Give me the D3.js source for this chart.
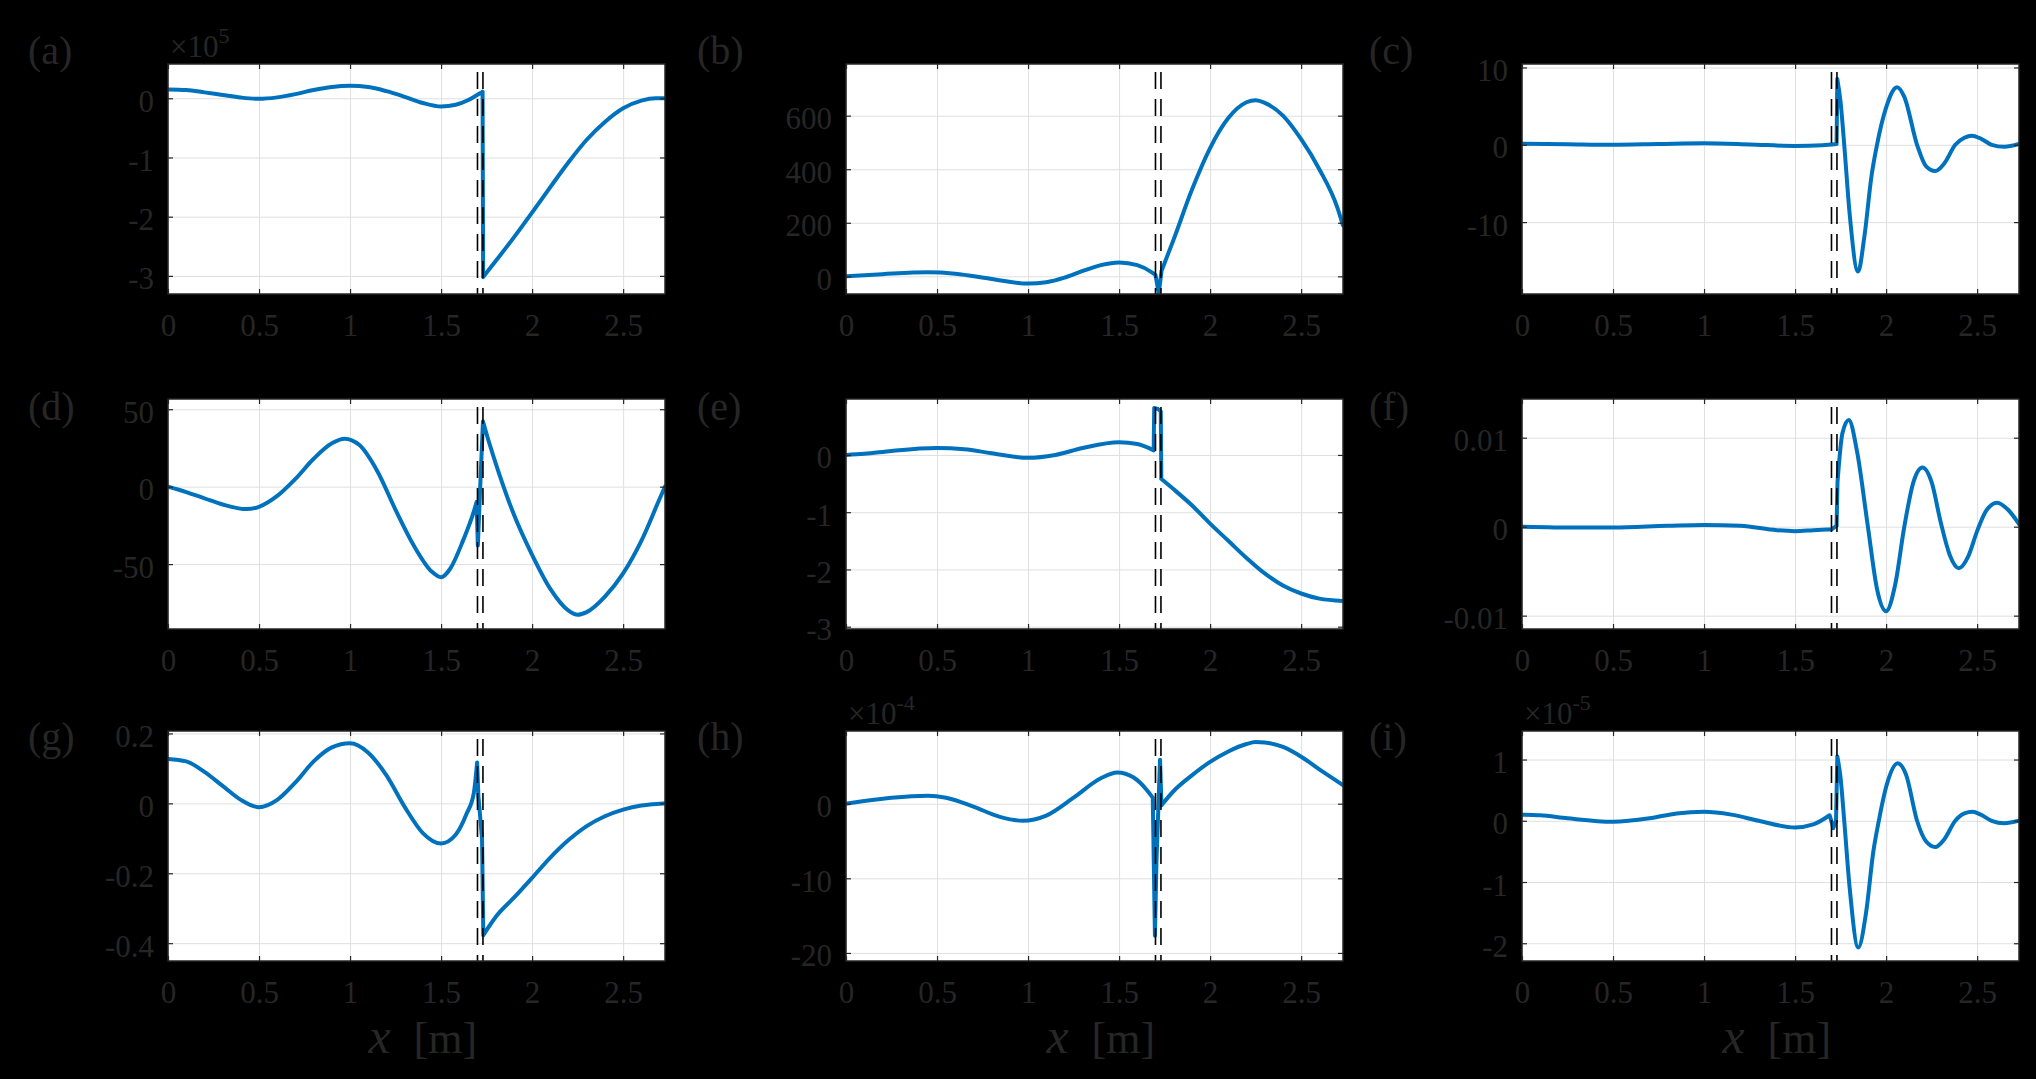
<!DOCTYPE html>
<html>
<head>
<meta charset="utf-8">
<script src="https://cdn.jsdelivr.net/npm/d3@7"></script>
<style>
  html, body { margin: 0; padding: 0; background: #000; }
  svg { display: block; }
  text { font-family: "Liberation Serif", "Times New Roman", serif; fill: #262626; }
</style>
</head>
<body>
<svg id="chart" width="2036" height="1079"></svg>
<script>
// shared x axis
const xDomain = [0, 2.73];
const xTicks = [0, 0.5, 1, 1.5, 2, 2.5];
const markerX = [1.70, 1.73];
// points inside this zone are joined by straight segments (jumps at the interface)
const jumpZone = [1.685, 1.735];

const panelNames = ['(a)', '(b)', '(c)', '(d)', '(e)', '(f)', '(g)', '(h)', '(i)'];
// y values are in the displayed units (see exponents)
const exponents = ['5', null, null, null, null, null, null, '-4', '-5'];
const yDomains = [
  [-3.306, 0.579], [-66, 793], [-19.3, 10.45],
  [-91.9, 56.6], [-3.04, 0.977], [-0.0115, 0.01435],
  [-0.451, 0.207], [-21.08, 9.74], [-2.29, 1.466]
];
const yTicks = [
  [-3, -2, -1, 0], [0, 200, 400, 600], [-10, 0, 10],
  [-50, 0, 50], [-3, -2, -1, 0], [-0.01, 0, 0.01],
  [-0.4, -0.2, 0, 0.2], [-20, -10, 0], [-2, -1, 0, 1]
];

const seriesA = [[0,0.15],[0.1,0.14],[0.2,0.1],[0.3,0.055],[0.4,0.012],[0.5,-0.01],[0.6,0.015],[0.7,0.07],
  [0.8,0.14],[0.9,0.19],[1.0,0.21],[1.1,0.19],[1.2,0.12],[1.3,0.025],[1.4,-0.08],[1.5,-0.14],[1.58,-0.11],
  [1.65,-0.03],[1.70,0.06],[1.728,0.11],[1.731,-3.02],[1.8,-2.75],[1.9,-2.35],[2.0,-1.93],[2.1,-1.5],
  [2.2,-1.08],[2.3,-0.7],[2.4,-0.4],[2.5,-0.17],[2.6,-0.04],[2.68,0],[2.73,0]];
const seriesB = [[0,0],[0.2,8],[0.45,15],[0.6,10],[0.8,-10],[1.0,-27],[1.1,-22],[1.2,-5],[1.3,20],[1.4,42],
  [1.5,52],[1.6,42],[1.68,15],[1.70,5],[1.718,-65],[1.733,20],[1.8,138],[1.9,323],[2.0,479],[2.1,591],
  [2.2,650],[2.25,658],[2.3,648],[2.4,600],[2.5,512],[2.6,400],[2.7,255],[2.73,190]];
const seriesC = [[0,0.15],[0.25,0.07],[0.5,0],[0.75,0.1],[1.0,0.2],[1.25,0.05],[1.5,-0.15],[1.65,-0.05],
  [1.728,0.1],[1.732,8.5],[1.75,5.5],[1.77,0],[1.80,-9],[1.846,-16.4],[1.88,-12],[1.92,-4],[1.95,0],
  [2.0,4.8],[2.06,7.45],[2.1,6.2],[2.17,0],[2.22,-2.8],[2.27,-3.4],[2.32,-2.4],[2.38,0],[2.43,0.9],
  [2.47,1.17],[2.52,0.8],[2.58,0],[2.65,-0.26],[2.73,0.1]];
const seriesD = [[0,0],[0.1,-3.5],[0.2,-7.5],[0.3,-11.5],[0.43,-14.5],[0.5,-13],[0.6,-6],[0.7,5],[0.8,18],
  [0.9,28],[0.97,31],[1.05,27],[1.15,10],[1.25,-15],[1.35,-38],[1.45,-55],[1.5,-58.5],[1.55,-53],
  [1.62,-35],[1.68,-16],[1.695,-10],[1.702,-38],[1.715,0],[1.73,42],[1.76,30],[1.82,8],[1.9,-18],
  [2.0,-44],[2.1,-66],[2.2,-80],[2.25,-82.7],[2.3,-81],[2.4,-71],[2.5,-56],[2.6,-35],[2.7,-8],[2.73,0]];
const seriesE = [[0,0],[0.1,0.02],[0.25,0.07],[0.5,0.12],[0.65,0.1],[0.8,0.03],[1.0,-0.05],[1.15,0],
  [1.3,0.12],[1.5,0.22],[1.6,0.19],[1.69,0.08],[1.693,0.82],[1.715,0.8],[1.729,0.76],[1.732,-0.42],
  [1.8,-0.6],[1.9,-0.88],[2.0,-1.2],[2.1,-1.5],[2.2,-1.8],[2.3,-2.07],[2.4,-2.28],[2.5,-2.42],
  [2.6,-2.51],[2.73,-2.55]];
const seriesF = [[0,0],[0.3,-0.0001],[0.5,-0.0001],[0.8,0.0001],[1.0,0.0002],[1.2,0.0001],[1.4,-0.0004],
  [1.5,-0.0005],[1.6,-0.0004],[1.7,-0.0003],[1.728,0.0001],[1.733,0.005],[1.76,0.0105],[1.795,0.012],
  [1.84,0.0085],[1.9,0],[1.95,-0.007],[2.0,-0.0095],[2.05,-0.0065],[2.1,0],[2.15,0.005],[2.2,0.00665],
  [2.25,0.005],[2.3,0.0005],[2.35,-0.0032],[2.4,-0.00467],[2.45,-0.0034],[2.5,-0.0005],[2.55,0.0018],
  [2.61,0.0027],[2.67,0.0019],[2.73,0.0003]];
const seriesG = [[0,0.127],[0.1,0.12],[0.2,0.09],[0.3,0.05],[0.4,0.01],[0.5,-0.011],[0.6,0.01],[0.7,0.06],
  [0.8,0.12],[0.9,0.16],[1.0,0.172],[1.1,0.145],[1.2,0.08],[1.3,-0.01],[1.4,-0.085],[1.5,-0.115],
  [1.58,-0.09],[1.64,-0.03],[1.68,0.03],[1.698,0.117],[1.705,0.02],[1.725,-0.1],[1.732,-0.377],
  [1.8,-0.325],[1.9,-0.27],[2.0,-0.213],[2.1,-0.155],[2.2,-0.105],[2.3,-0.065],[2.4,-0.037],
  [2.5,-0.018],[2.6,-0.006],[2.7,-0.001],[2.73,0]];
const seriesH = [[0,0],[0.1,0.35],[0.25,0.8],[0.45,1.08],[0.55,0.8],[0.7,-0.4],[0.85,-1.8],[0.97,-2.29],
  [1.1,-1.6],[1.25,0.8],[1.4,3.4],[1.49,4.17],[1.58,3.5],[1.65,1.9],[1.685,0.8],[1.697,-17.7],
  [1.705,-8],[1.725,5.9],[1.733,-0.2],[1.8,1.7],[1.9,3.8],[2.0,5.6],[2.1,7.0],[2.2,8.0],[2.25,8.25],
  [2.3,8.2],[2.4,7.6],[2.5,6.3],[2.6,4.6],[2.73,2.5]];
const seriesI = [[0,0.1],[0.1,0.09],[0.25,0.04],[0.5,-0.016],[0.7,0.04],[0.85,0.12],[1.0,0.146],[1.15,0.1],
  [1.3,0],[1.5,-0.11],[1.6,-0.06],[1.69,0.09],[1.71,-0.12],[1.725,0],[1.732,1.05],[1.75,0.7],[1.77,0],
  [1.8,-1.1],[1.847,-2.07],[1.89,-1.5],[1.93,-0.5],[1.96,0],[2.0,0.55],[2.064,0.94],[2.11,0.75],
  [2.17,0],[2.22,-0.34],[2.27,-0.43],[2.32,-0.3],[2.38,0],[2.43,0.12],[2.475,0.146],[2.52,0.1],
  [2.58,0],[2.65,-0.04],[2.73,0]];
const allSeries = [seriesA, seriesB, seriesC, seriesD, seriesE, seriesF, seriesG, seriesH, seriesI];

// layout
const colLeft = [168, 846, 1522];
const rowTop = [64, 399, 731];
const labelX = [28, 697, 1369];
const labelY = [64, 420, 750];
const W = 497, H = 230;

const svg = d3.select('#chart');
svg.append('rect').attr('width', 2036).attr('height', 1079).attr('fill', '#000');

const x = d3.scaleLinear().domain(xDomain).range([0, W]);
const fmt = v => String(+v.toFixed(4));
const inZone = d => d[0] >= jumpZone[0] && d[0] <= jumpZone[1];

// split a series into smooth pieces and straight jump connectors
function splitSeries(data) {
  let smooth = [[data[0]]], jumps = [];
  for (let k = 1; k < data.length; k++) {
    if (inZone(data[k - 1]) && inZone(data[k])) {
      jumps.push([data[k - 1], data[k]]);
      smooth.push([data[k]]);
    } else {
      smooth[smooth.length - 1].push(data[k]);
    }
  }
  return {smooth: smooth.filter(s => s.length > 1), jumps: jumps};
}

allSeries.forEach(function(data, i) {
  let col = i % 3, row = Math.floor(i / 3);
  let y = d3.scaleLinear().domain(yDomains[i]).range([H, 0]);
  let g = svg.append('g')
    .attr('transform', 'translate(' + colLeft[col] + ',' + rowTop[row] + ')');

  g.append('rect').attr('width', W).attr('height', H).attr('fill', '#fff');

  // grid
  g.append('g').attr('class', 'grid')
    .call(d3.axisBottom(x).tickValues(xTicks).tickSize(H).tickFormat(''))
    .call(s => s.select('.domain').remove());
  g.append('g').attr('class', 'grid')
    .call(d3.axisRight(y).tickValues(yTicks[i]).tickSize(W).tickFormat(''))
    .call(s => s.select('.domain').remove());
  g.selectAll('.grid line').attr('stroke', '#dfdfdf').attr('stroke-width', 1);

  // clipped data
  let clipId = 'clip' + i;
  g.append('clipPath').attr('id', clipId)
    .append('rect').attr('width', W).attr('height', H);
  let plot = g.append('g').attr('clip-path', 'url(#' + clipId + ')');

  let smoothLine = d3.line()
    .x(d => x(d[0]))
    .y(d => y(d[1]))
    .curve(d3.curveMonotoneX);
  let straightLine = d3.line()
    .x(d => x(d[0]))
    .y(d => y(d[1]));

  let parts = splitSeries(data);
  let pathD = parts.smooth.map(s => smoothLine(s)).join('') +
              parts.jumps.map(s => straightLine(s)).join('');

  plot.append('path')
    .attr('d', pathD)
    .attr('fill', 'none')
    .attr('stroke', '#0072BD')
    .attr('stroke-width', 4)
    .attr('stroke-linejoin', 'round')
    .attr('stroke-linecap', 'round');

  // interface markers
  plot.selectAll('line.marker')
    .data(markerX)
    .enter().append('line')
    .attr('class', 'marker')
    .attr('x1', d => x(d)).attr('x2', d => x(d))
    .attr('y1', 8).attr('y2', H)
    .attr('stroke', '#000')
    .attr('stroke-width', 1.6)
    .attr('stroke-dasharray', '17,10');

  // axes with inward ticks
  let bottom = g.append('g').attr('class', 'ax')
    .attr('transform', 'translate(0,' + H + ')')
    .call(d3.axisBottom(x).tickValues(xTicks).tickFormat(fmt)
      .tickSizeInner(-5).tickSizeOuter(0).tickPadding(20));
  g.append('g').attr('class', 'ax')
    .call(d3.axisTop(x).tickValues(xTicks).tickFormat('')
      .tickSizeInner(-5).tickSizeOuter(0));
  let left = g.append('g').attr('class', 'ax')
    .call(d3.axisLeft(y).tickValues(yTicks[i]).tickFormat(fmt)
      .tickSizeInner(-5).tickSizeOuter(0).tickPadding(14));
  g.append('g').attr('class', 'ax')
    .attr('transform', 'translate(' + W + ',0)')
    .call(d3.axisRight(y).tickValues(yTicks[i]).tickFormat('')
      .tickSizeInner(-5).tickSizeOuter(0));

  g.selectAll('.ax .domain').remove();
  g.selectAll('.ax .tick line').attr('stroke', '#262626').attr('stroke-width', 1.2);

  bottom.selectAll('text').attr('font-size', 31).attr('fill', '#262626');
  left.selectAll('text').attr('font-size', 31).attr('fill', '#262626').attr('dy', '0.42em');

  // box
  g.append('rect').attr('width', W).attr('height', H)
    .attr('fill', 'none').attr('stroke', '#262626').attr('stroke-width', 1.5);

  // exponent
  if (exponents[i]) {
    let t = g.append('text').attr('x', 2).attr('y', -7).attr('font-size', 31);
    t.append('tspan').text('\u00d710');
    t.append('tspan').attr('font-size', 22).attr('dy', -14).text(exponents[i]);
  }

  // panel label
  svg.append('text')
    .attr('x', labelX[col]).attr('y', labelY[row])
    .attr('font-size', 40)
    .text(panelNames[i]);

  // x label on bottom row
  if (row === 2) {
    let cx = colLeft[col] + W / 2;
    let lab = svg.append('text').attr('y', 1053).attr('font-size', 44);
    lab.append('tspan').attr('x', cx - 48).attr('font-size', 50)
      .attr('font-style', 'italic').text('x');
    lab.append('tspan').attr('x', cx - 3).text('[m]');
  }
});
</script>
</body>
</html>
